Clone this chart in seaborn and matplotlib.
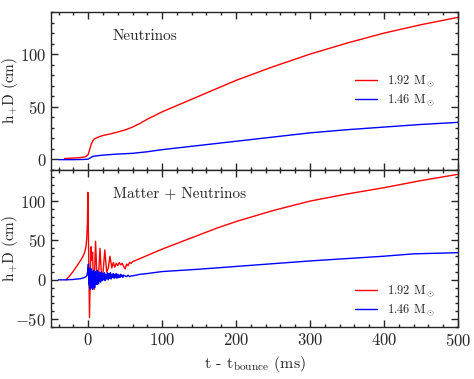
"""
Gravitational wave strain h+D vs time after bounce, for two progenitor masses
Top: neutrino contribution only; bottom: matter + neutrinos
"""

import numpy as np
import pandas as pd
import seaborn as sns
import matplotlib.pyplot as plt
from matplotlib.ticker import MultipleLocator

sns.set_theme(context='notebook', style='ticks')
plt.rcParams['font.family'] = ['cmr10', 'DejaVu Serif']
plt.rcParams['mathtext.fontset'] = 'cm'
plt.rcParams['axes.formatter.use_mathtext'] = True
plt.rcParams['axes.unicode_minus'] = False

RED = '#ff0000'
BLUE = '#0000ff'
labels = [r'1.92 M$_\odot$', r'1.46 M$_\odot$']

# --- Neutrinos only ---
t_nu_red = [-32, -20, -10, -5, -2, 0, 2, 4, 6, 8, 12, 20, 30, 40, 50, 60, 70, 80, 90,
            100, 125, 150, 175, 200, 250, 300, 350, 400, 450, 500]
h_nu_red = [0.5, 1, 1.5, 2, 3, 4.5, 9, 14, 17, 19, 20.5, 22.5, 24, 25.8, 27.8, 30.5, 34, 38, 41.5,
            45, 52.5, 60, 67.5, 75, 88, 100, 110.5, 120, 128, 135]

t_nu_blue = [-40, -20, -5, 0, 3, 6, 10, 20, 40, 60, 80, 100, 150, 200,
             250, 300, 350, 400, 450, 500]
h_nu_blue = [-0.5, -0.5, -0.3, 0, 1.2, 2.5, 3, 3.8, 4.8, 5.5, 7, 9, 13, 17,
             21, 25, 28, 30.5, 33, 35]

# --- Matter + neutrinos ---
t_mn_red = [-30, -25, -20, -15, -10, -7, -5, -3, -2, -1, -0.4,
            1.8, 3, 4, 5, 6, 7, 8, 10, 12, 13.5,
            16, 18, 20, 22.5, 25, 27, 29.5, 32, 34, 36,
            38, 40, 42, 44, 46, 48, 50, 52, 54, 56,
            58, 60, 70, 80, 90, 100, 125, 150, 175, 200,
            250, 300, 350, 400, 450, 500]
h_mn_red = [0, 5, 11, 18, 25, 30, 34, 42, 52, 72, 111,
            -48, 15, 42, 25, 35, -5, -12, 49, 0, -3,
            40, 5, 8, 38, 10, 14, 30, 15, 22, 16,
            21, 18, 22, 19, 21, 17, 14, 20, 18, 22,
            21, 23, 27, 31, 35, 39, 48, 57, 66, 74,
            88, 100, 109, 117, 126, 134]

t_mn_blue = [-40, -30, -20, -10, -5, -3, -1.5, -0.5,
             0.3, 0.8, 1.3, 1.8, 2.3, 2.8, 3.3, 3.8, 4.3, 4.8,
             5.3, 5.8, 6.3, 6.8, 7.3, 7.8, 8.3, 8.8, 9.3, 9.8,
             10.5, 11, 11.5, 12, 12.5, 13, 13.5, 14, 14.5, 15,
             16, 17, 18, 19, 20, 21, 22, 23, 24, 25,
             26, 27, 28, 29, 30, 31, 32, 33, 34, 35,
             36, 37, 38, 39, 40, 41, 42, 43, 44, 45,
             46, 47, 48, 50, 52, 54, 56, 58, 60, 70,
             80, 100, 150, 200, 250, 300, 350, 400, 440, 460, 500]
h_mn_blue = [0, 0, 0.5, 1.5, 3, 4, 6, 12,
             20, -5, 14, -8, 12, -12, 15, -10, 13, -6,
             11, -12, 10, -9, 12, -7, 9, -10, 11, -5,
             10, -4, 9, -6, 12, -3, 8, -5, 10, -2,
             9, -3, 10, -1, 8, 0, 9, -1, 7, 1,
             9, 0, 8, 2, 9, 1, 7, 3, 8, 2,
             7, 3, 8, 2, 7, 3, 6, 3, 7, 4,
             6, 3, 6, 5, 4, 6, 4, 5, 5, 7,
             8, 10.5, 13.5, 17, 20.5, 24, 27, 30, 33, 33.5, 34.5]

fig = plt.figure(figsize=(4.74, 3.79), dpi=100)
gs = fig.add_gridspec(2, 1, hspace=0, left=0.108, right=0.966,
                      top=0.968, bottom=0.137)
ax1 = fig.add_subplot(gs[0])
ax2 = fig.add_subplot(gs[1], sharex=ax1)

panels = [
    (ax1, (t_nu_red, h_nu_red), (t_nu_blue, h_nu_blue), 'Neutrinos', (-10, 140), 0.5),
    (ax2, (t_mn_red, h_mn_red), (t_mn_blue, h_mn_blue), 'Matter + Neutrinos', (-60, 140), 0.168),
]

for ax, red, blue, title, ylim, leg_y in panels:
    sns.lineplot(x=red[0], y=red[1], color=RED, linewidth=1.0, estimator=None,
                 label=labels[0], ax=ax)
    sns.lineplot(x=blue[0], y=blue[1], color=BLUE, linewidth=1.0, estimator=None,
                 label=labels[1], ax=ax)
    ax.set_ylim(*ylim)
    ax.set_xlim(-50, 500)
    ax.xaxis.set_major_locator(MultipleLocator(100))
    ax.xaxis.set_minor_locator(MultipleLocator(20))
    ax.yaxis.set_major_locator(MultipleLocator(50))
    ax.yaxis.set_minor_locator(MultipleLocator(10))
    ax.tick_params(which='both', direction='in', top=True, right=True,
                   labelsize=12, width=1.0)
    ax.tick_params(which='major', length=5)
    ax.tick_params(which='minor', length=2.5)
    for s in ax.spines.values():
        s.set_linewidth(1.0)
    ax.text(0.152, 0.847, title, transform=ax.transAxes, fontsize=11,
            va='center', ha='left')
    ax.legend(loc='center left', bbox_to_anchor=(0.72, leg_y), frameon=False,
              fontsize=9, handlelength=1.7, labelspacing=0.3, handletextpad=0.8)
    ax.set_ylabel(r'h$_{{+}}$D (cm)', fontsize=11)
    ax.yaxis.set_label_coords(-0.077, 0.5)

ax1.tick_params(labelbottom=False)
ax1.set_xlabel('')
ax2.set_xlabel(r't - t$_{\rm bounce}$ (ms)', fontsize=11.5)

plt.savefig('out.png', dpi=100)
